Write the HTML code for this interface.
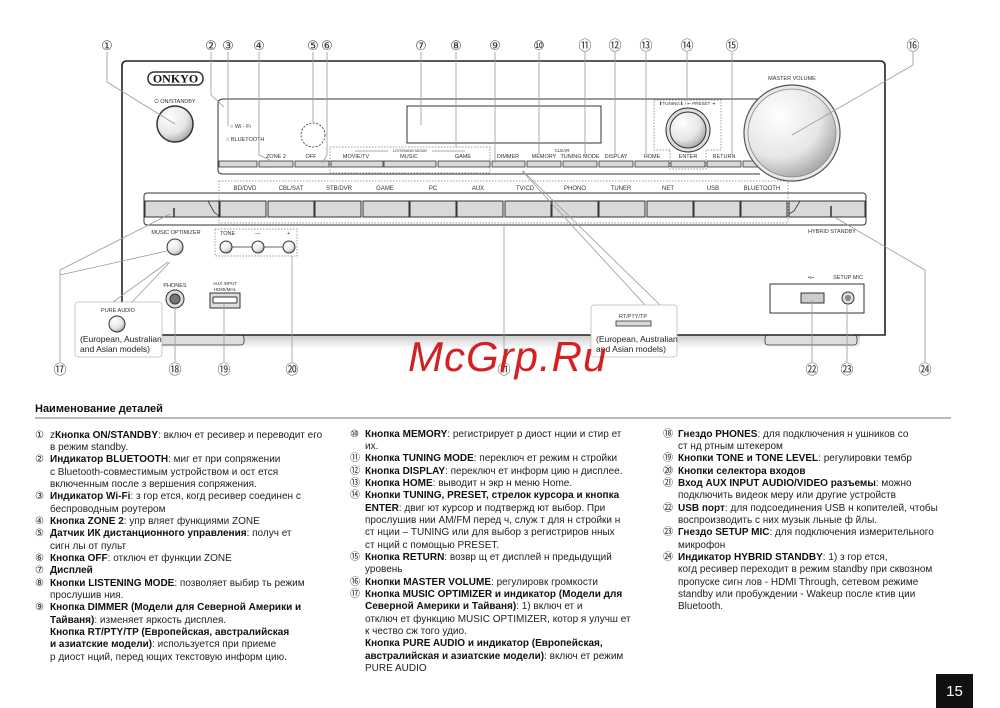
<!DOCTYPE html>
<html><head><meta charset="utf-8"><style>
html,body{margin:0;padding:0;background:#fff}
svg{display:block}
.t{font-family:"Liberation Sans",sans-serif;fill:#222}
.s{font-family:"Liberation Sans",sans-serif;fill:#333;font-size:5.5px}
.n{font-family:"Liberation Sans","DejaVu Sans",sans-serif;fill:#333;font-size:13px}
.tx{font-family:"Liberation Sans",sans-serif;fill:#222;font-size:10px;white-space:pre}
.tx tspan.b{font-weight:bold;fill:#111}
.ld{stroke:#999;stroke-width:0.8;fill:none}
.btn{fill:#d9d9d9;stroke:#333;stroke-width:0.8}
</style></head><body>
<svg width="1000" height="708" viewBox="0 0 1000 708" xmlns="http://www.w3.org/2000/svg" xml:space="preserve">
<defs>
<radialGradient id="kn" cx="0.35" cy="0.3" r="0.8"><stop offset="0" stop-color="#fff"/><stop offset="0.6" stop-color="#e6e6e6"/><stop offset="1" stop-color="#999"/></radialGradient>
<linearGradient id="ft" x1="0" y1="0" x2="0" y2="1"><stop offset="0" stop-color="#aaa"/><stop offset="1" stop-color="#fff"/></linearGradient>
</defs>
<rect x="160" y="335" width="700" height="14" fill="url(#ft)" opacity="0.6"/>
<rect x="158" y="335" width="86" height="10" rx="3" fill="#ddd" stroke="#333" stroke-width="0.8"/>
<rect x="765" y="335" width="92" height="10" rx="3" fill="#ddd" stroke="#333" stroke-width="0.8"/>
<path d="M122,335 V66 Q122,61 127,61 H880 Q885,61 885,66 V335 Z" fill="#fff" stroke="#222" stroke-width="1.6"/>
<rect x="148" y="72" width="55" height="13" rx="6" fill="#fff" stroke="#333" stroke-width="1.5"/>
<text x="175.5" y="82.5" text-anchor="middle" style="font-family:'Liberation Serif',serif;font-weight:bold;font-size:12px;fill:#111">ONKYO</text>
<text x="175" y="103" text-anchor="middle" class="s">⏻ ON/STANDBY</text>
<circle cx="175" cy="124" r="18" fill="url(#kn)" stroke="#333" stroke-width="1.5"/>
<path d="M760,99 H223 Q218,99 218,104 V170 Q218,174 223,174 H760" fill="none" stroke="#333" stroke-width="1"/>
<text x="230" y="128" class="s">○ Wi - Fi</text>
<text x="226" y="141" class="s">○ BLUETOOTH</text>
<circle cx="313" cy="135" r="12" fill="none" stroke="#333" stroke-width="0.8" stroke-dasharray="2,1.5"/>
<rect x="407" y="106" width="194" height="37" fill="#fff" stroke="#333" stroke-width="1"/>
<rect x="330" y="147" width="160" height="26" fill="none" stroke="#777" stroke-width="0.7" stroke-dasharray="1.5,1.5"/>
<text x="410" y="152" text-anchor="middle" style="font-family:'Liberation Sans';font-size:4px;fill:#333">LISTENING MODE</text>
<line x1="355" y1="151" x2="388" y2="151" stroke="#555" stroke-width="0.5"/><line x1="432" y1="151" x2="465" y2="151" stroke="#555" stroke-width="0.5"/>
<text x="562" y="152" text-anchor="middle" style="font-family:'Liberation Sans';font-size:4.5px;fill:#333">CLEAR</text>
<g class="s" text-anchor="middle">
<text x="276" y="158">ZONE 2</text><text x="311" y="158">OFF</text><text x="356" y="158">MOVIE/TV</text><text x="409" y="158">MUSIC</text><text x="463" y="158">GAME</text><text x="508" y="158">DIMMER</text><text x="544" y="158">MEMORY</text><text x="580" y="158">TUNING MODE</text><text x="616" y="158">DISPLAY</text><text x="652" y="158">HOME</text><text x="688" y="158">ENTER</text><text x="724" y="158">RETURN</text>
</g>
<g class="btn">
<rect x="219" y="161" width="38" height="6"/><rect x="259" y="161" width="34" height="6"/><rect x="295" y="161" width="34" height="6"/><rect x="331" y="161" width="52" height="6"/><rect x="384" y="161" width="52" height="6"/><rect x="438" y="161" width="52" height="6"/><rect x="492" y="161" width="33" height="6"/><rect x="527" y="161" width="34" height="6"/><rect x="563" y="161" width="34" height="6"/><rect x="599" y="161" width="34" height="6"/><rect x="635" y="161" width="34" height="6"/><rect x="671" y="161" width="34" height="6"/><rect x="707" y="161" width="34" height="6"/><rect x="743" y="161" width="17" height="6"/>
</g>
<path d="M670,150 H654 V100 H721 V150 H706 V169 H670 Z" fill="none" stroke="#777" stroke-width="0.7" stroke-dasharray="1.5,1.5"/>
<text x="687" y="105" text-anchor="middle" style="font-family:'Liberation Sans';font-size:4.5px;fill:#333">⬆TUNING⬇ / ⇤ PRESET ⇥</text>
<circle cx="688" cy="130" r="22" fill="#ddd" stroke="#333" stroke-width="1"/>
<circle cx="688" cy="130" r="18" fill="url(#kn)" stroke="#333" stroke-width="1"/>
<text x="792" y="80" text-anchor="middle" class="s">MASTER VOLUME</text>
<circle cx="792" cy="133" r="48" fill="#e8e8e8" stroke="#555" stroke-width="1.2"/>
<circle cx="792" cy="133" r="44" fill="url(#kn)" stroke="#888" stroke-width="0.8"/>
<rect x="144" y="193" width="722" height="32" rx="3" fill="#fff" stroke="#333" stroke-width="1"/>
<rect x="219" y="181" width="569" height="42" fill="none" stroke="#777" stroke-width="0.7" stroke-dasharray="1.5,1.5"/>
<g class="s" text-anchor="middle" style="font-size:6px">
<text x="245" y="190">BD/DVD</text><text x="291" y="190">CBL/SAT</text><text x="339" y="190">STB/DVR</text><text x="385" y="190">GAME</text><text x="433" y="190">PC</text><text x="478" y="190">AUX</text><text x="525" y="190">TV/CD</text><text x="575" y="190">PHONO</text><text x="621" y="190">TUNER</text><text x="668" y="190">NET</text><text x="713" y="190">USB</text><text x="762" y="190">BLUETOOTH</text>
</g>
<g class="btn" style="stroke-width:1">
<rect x="145" y="201" width="74" height="16"/>
<rect x="220" y="201" width="46" height="16"/><rect x="268" y="201" width="46" height="16"/><rect x="315" y="201" width="46" height="16"/><rect x="363" y="201" width="46" height="16"/><rect x="410" y="201" width="46" height="16"/><rect x="457" y="201" width="46" height="16"/><rect x="505" y="201" width="46" height="16"/><rect x="552" y="201" width="46" height="16"/><rect x="599" y="201" width="46" height="16"/><rect x="647" y="201" width="46" height="16"/><rect x="694" y="201" width="46" height="16"/><rect x="741" y="201" width="46" height="16"/>
<rect x="789" y="201" width="76" height="16"/>
</g>
<line x1="174" y1="208" x2="174" y2="217" stroke="#333" stroke-width="1.5"/>
<line x1="831" y1="206" x2="831" y2="217" stroke="#333" stroke-width="1.5"/>
<path d="M208,201 L214,212 L219,216" fill="none" stroke="#333" stroke-width="0.8"/>
<path d="M800,201 L794,211 L789,214" fill="none" stroke="#333" stroke-width="0.8"/>
<text x="832" y="233" text-anchor="middle" class="s">HYBRID STANDBY</text>
<text x="176" y="234" text-anchor="middle" class="s">MUSIC OPTIMIZER</text>
<circle cx="175" cy="247" r="8" fill="url(#kn)" stroke="#333" stroke-width="1"/>
<rect x="215" y="229" width="82" height="27" fill="none" stroke="#777" stroke-width="0.7" stroke-dasharray="1.5,1.5"/>
<text x="220" y="235" class="s">TONE</text><text x="255" y="235" class="s">—</text><text x="287" y="235" class="s">+</text>
<line x1="226" y1="247" x2="289" y2="247" stroke="#333" stroke-width="0.8"/>
<circle cx="226" cy="247" r="6" fill="url(#kn)" stroke="#333"/><circle cx="258" cy="247" r="6" fill="url(#kn)" stroke="#333"/><circle cx="289" cy="247" r="6" fill="url(#kn)" stroke="#333"/>
<text x="175" y="287" text-anchor="middle" class="s">PHONES</text>
<circle cx="175" cy="299" r="9" fill="#ddd" stroke="#333" stroke-width="1"/><circle cx="175" cy="299" r="5" fill="#777" stroke="#333"/>
<text x="225" y="285" text-anchor="middle" class="s" style="font-size:4.5px">AUX INPUT</text>
<text x="225" y="291" text-anchor="middle" class="s" style="font-size:4.5px">HDMI/MHL</text>
<rect x="210" y="293" width="30" height="15" fill="#ddd" stroke="#333" stroke-width="1"/>
<rect x="213" y="297" width="24" height="6" rx="1" fill="#fff" stroke="#333" stroke-width="1"/>
<text x="811" y="279" text-anchor="middle" class="s">•⟜</text>
<text x="848" y="279" text-anchor="middle" class="s">SETUP MIC</text>
<rect x="770" y="284" width="94" height="29" fill="#fff" stroke="#333" stroke-width="1"/>
<rect x="801" y="293" width="23" height="10" fill="#ccc" stroke="#333" stroke-width="1"/>
<circle cx="848" cy="298" r="6" fill="#ddd" stroke="#333"/><circle cx="848" cy="298" r="3" fill="#888"/>
<path d="M113,302 L168,262 M132,302 L170,262" class="ld"/>
<rect x="75" y="302" width="87" height="55" rx="3" fill="#fff" stroke="#bbb" stroke-width="0.8"/>
<text x="118" y="312" text-anchor="middle" class="s">PURE AUDIO</text>
<circle cx="117" cy="324" r="8" fill="url(#kn)" stroke="#333"/>
<text x="80" y="342" class="t" style="font-size:8.5px">(European, Australian</text>
<text x="80" y="352" class="t" style="font-size:8.5px">and Asian models)</text>
<rect x="591" y="305" width="86" height="52" rx="3" fill="#fff" stroke="#bbb" stroke-width="0.8"/>
<text x="633" y="318" text-anchor="middle" class="s">RT/PTY/TP</text>
<rect x="616" y="321" width="35" height="5" class="btn"/>
<text x="596" y="342" class="t" style="font-size:8.5px">(European, Australian</text>
<text x="596" y="352" class="t" style="font-size:8.5px">and Asian models)</text>
<g class="ld">
<path d="M107,52 V82 L175,124"/><path d="M211,52 V95 L224,107"/><path d="M228,52 V126"/><path d="M259,52 V155 L270,160"/>
<path d="M313,52 V123"/><path d="M327,52 V155 L322,163"/><path d="M421,52 V125"/><path d="M456,52 V147"/>
<path d="M495,52 V163"/><path d="M539,52 V155"/><path d="M585,52 V155"/><path d="M615,52 V155"/><path d="M646,52 V155"/>
<path d="M687,52 V100"/><path d="M732,52 V155"/><path d="M913,52 V65 L792,135"/>
<path d="M522,171 L645,305 M523,171 L660,305"/>
<path d="M60,362 V270 L170,214"/><path d="M60,275 L167,251"/>
<path d="M175,362 V308"/><path d="M224,362 V302"/><path d="M292,362 V256"/><path d="M504,362 V224"/>
<path d="M812,362 V300"/><path d="M847,362 V304"/><path d="M925,362 V270 L836,218"/>
</g>
<g class="n" text-anchor="middle">
<text x="107" y="50">①</text><text x="211" y="50">②</text><text x="228" y="50">③</text><text x="259" y="50">④</text><text x="313" y="50">⑤</text><text x="327" y="50">⑥</text><text x="421" y="50">⑦</text><text x="456" y="50">⑧</text><text x="495" y="50">⑨</text><text x="539" y="50">⑩</text><text x="585" y="50">⑪</text><text x="615" y="50">⑫</text><text x="646" y="50">⑬</text><text x="687" y="50">⑭</text><text x="732" y="50">⑮</text><text x="913" y="50">⑯</text>
<text x="60" y="374">⑰</text><text x="175" y="374">⑱</text><text x="224" y="374">⑲</text><text x="292" y="374">⑳</text><text x="504" y="374">㉑</text><text x="812" y="374">㉒</text><text x="847" y="374">㉓</text><text x="925" y="374">㉔</text>
</g>
<text x="408" y="371" style="font-family:'Liberation Sans',sans-serif;font-style:italic;font-size:42px;fill:#d42020;letter-spacing:1px">McGrp.Ru</text>
<text x="35" y="412" class="t" style="font-size:11px;font-weight:bold;fill:#111">Наименование деталей</text>
<line x1="35" y1="418" x2="951" y2="418" stroke="#444" stroke-width="0.8"/>
<g class="tx">
<text x="35" y="438">①</text><text x="50" y="438">z<tspan class="b">Кнопка ON/STANDBY</tspan>: включ  ет ресивер и переводит его</text>
<text x="50" y="450">в режим standby.</text>
<text x="35" y="462">②</text><text x="50" y="462"><tspan class="b">Индикатор BLUETOOTH</tspan>: миг  ет при сопряжении</text>
<text x="50" y="475">с Bluetooth-совместимым устройством и ост  ется</text>
<text x="50" y="487">включенным после з  вершения сопряжения.</text>
<text x="35" y="499">③</text><text x="50" y="499"><tspan class="b">Индикатор Wi-Fi</tspan>: з  гор  ется, когд   ресивер соединен с</text>
<text x="50" y="512">беспроводным роутером</text>
<text x="35" y="524">④</text><text x="50" y="524"><tspan class="b">Кнопка ZONE 2</tspan>: упр  вляет функциями ZONE</text>
<text x="35" y="536">⑤</text><text x="50" y="536"><tspan class="b">Датчик ИК дистанционного управления</tspan>: получ  ет</text>
<text x="50" y="549">сигн  лы от пульт</text>
<text x="35" y="561">⑥</text><text x="50" y="561"><tspan class="b">Кнопка OFF</tspan>: отключ  ет функции ZONE</text>
<text x="35" y="573">⑦</text><text x="50" y="573"><tspan class="b">Дисплей</tspan></text>
<text x="35" y="586">⑧</text><text x="50" y="586"><tspan class="b">Кнопки LISTENING MODE</tspan>: позволяет выбир  ть режим</text>
<text x="50" y="598">прослушив  ния.</text>
<text x="35" y="610">⑨</text><text x="50" y="610"><tspan class="b">Кнопка DIMMER (Модели для Северной Америки и</tspan></text>
<text x="50" y="623"><tspan class="b">Тайваня)</tspan>: изменяет яркость дисплея.</text>
<text x="50" y="635"><tspan class="b">Кнопка RT/PTY/TP (Европейская, австралийская</tspan></text>
<text x="50" y="647"><tspan class="b">и азиатские модели)</tspan>: используется при приеме</text>
<text x="50" y="660">р  диост  нций, перед  ющих текстовую информ  цию.</text>
</g>
<g class="tx">
<text x="350" y="437">⑩</text><text x="365" y="437"><tspan class="b">Кнопка MEMORY</tspan>: регистрирует р  диост  нции и стир  ет</text>
<text x="365" y="449">их.</text>
<text x="350" y="461">⑪</text><text x="365" y="461"><tspan class="b">Кнопка TUNING MODE</tspan>: переключ  ет режим н  стройки</text>
<text x="350" y="474">⑫</text><text x="365" y="474"><tspan class="b">Кнопка DISPLAY</tspan>: переключ  ет информ  цию н   дисплее.</text>
<text x="350" y="486">⑬</text><text x="365" y="486"><tspan class="b">Кнопка HOME</tspan>: выводит н   экр  н меню Home.</text>
<text x="350" y="498">⑭</text><text x="365" y="498"><tspan class="b">Кнопки TUNING, PRESET, стрелок курсора и кнопка</tspan></text>
<text x="365" y="511"><tspan class="b">ENTER</tspan>: двиг  ют курсор и подтвержд  ют выбор. При</text>
<text x="365" y="523">прослушив  нии AM/FM перед  ч, служ  т для н  стройки н</text>
<text x="365" y="535">ст  нции – TUNING или для выбор   з  регистриров  нных</text>
<text x="365" y="548">ст  нций с помощью PRESET.</text>
<text x="350" y="560">⑮</text><text x="365" y="560"><tspan class="b">Кнопка RETURN</tspan>: возвр  щ  ет дисплей н   предыдущий</text>
<text x="365" y="572">уровень</text>
<text x="350" y="585">⑯</text><text x="365" y="585"><tspan class="b">Кнопки MASTER VOLUME</tspan>: регулировк   громкости</text>
<text x="350" y="597">⑰</text><text x="365" y="597"><tspan class="b">Кнопка MUSIC OPTIMIZER и индикатор (Модели для</tspan></text>
<text x="365" y="609"><tspan class="b">Северной Америки и Тайваня)</tspan>: 1)        включ  ет и</text>
<text x="365" y="622">отключ  ет функцию MUSIC OPTIMIZER, котор  я улучш  ет</text>
<text x="365" y="634">к  чество сж  того   удио.</text>
<text x="365" y="646"><tspan class="b">Кнопка PURE AUDIO и индикатор (Европейская,</tspan></text>
<text x="365" y="659"><tspan class="b">австралийская и азиатские модели)</tspan>: включ  ет режим</text>
<text x="365" y="671">PURE AUDIO</text>
</g>
<g class="tx">
<text x="663" y="437">⑱</text><text x="678" y="437"><tspan class="b">Гнездо PHONES</tspan>: для подключения н  ушников со</text>
<text x="678" y="449">ст  нд  ртным штекером</text>
<text x="663" y="461">⑲</text><text x="678" y="461"><tspan class="b">Кнопки TONE и TONE LEVEL</tspan>: регулировки тембр</text>
<text x="663" y="474">⑳</text><text x="678" y="474"><tspan class="b">Кнопки селектора входов</tspan></text>
<text x="663" y="486">㉑</text><text x="678" y="486"><tspan class="b">Вход AUX INPUT AUDIO/VIDEO разъемы</tspan>: можно</text>
<text x="678" y="498">подключить видеок  меру или другие устройств</text>
<text x="663" y="511">㉒</text><text x="678" y="511"><tspan class="b">USB порт</tspan>: для подсоединения USB н  копителей, чтобы</text>
<text x="678" y="523">воспроизводить с них музык  льные ф  йлы.</text>
<text x="663" y="535">㉓</text><text x="678" y="535"><tspan class="b">Гнездо SETUP MIC</tspan>: для подключения измерительного</text>
<text x="678" y="548">микрофон</text>
<text x="663" y="560">㉔</text><text x="678" y="560"><tspan class="b">Индикатор HYBRID STANDBY</tspan>: 1)          з  гор  ется,</text>
<text x="678" y="572">когд   ресивер переходит в режим standby при сквозном</text>
<text x="678" y="585">пропуске сигн  лов - HDMI Through, сетевом режиме</text>
<text x="678" y="597">standby или пробуждении - Wakeup после   ктив  ции</text>
<text x="678" y="609">Bluetooth.</text>
</g>
<rect x="936" y="674" width="37" height="34" fill="#111"/>
<text x="954.5" y="696" text-anchor="middle" style="font-family:'Liberation Sans',sans-serif;font-size:15px;fill:#fff">15</text>
</svg>
</body></html>
